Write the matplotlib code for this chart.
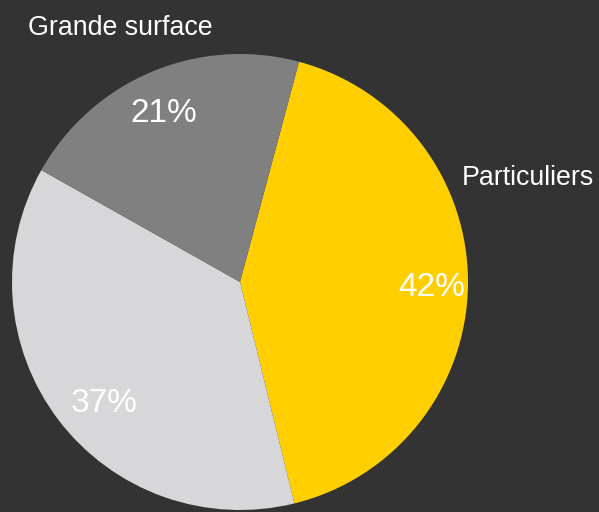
import matplotlib
matplotlib.use("Agg")
import matplotlib.pyplot as plt
import numpy as np

plt.rcParams['font.family'] = ['Liberation Sans', 'DejaVu Sans']

# Share of sales by channel
categories = ["Particuliers", "", "Grande surface"]
shares = [42, 37, 21]
colors = ["#FFCF00", "#D7D7D9", "#808080"]

W, H = 599, 512
fig = plt.figure(figsize=(W / 100, H / 100), dpi=100, facecolor="#333333")
ax = fig.add_axes([0, 0, 1, 1])
ax.set_facecolor("#333333")

cx, cy, R = 240, H - 282, 228
wedges, _ = ax.pie(shares, colors=colors, startangle=75, counterclock=False,
                   center=(cx, cy), radius=R, frame=True,
                   wedgeprops=dict(linewidth=0))

# percentage labels inside each wedge (radial distance, angular nudge in degrees)
pct_dist = [0.84, 0.79, 0.825]
pct_nudge = [0.0, 3.8, 1.2]
for w, v, d, da in zip(wedges, shares, pct_dist, pct_nudge):
    ang = np.deg2rad((w.theta1 + w.theta2) / 2 + da)
    ax.text(cx + d * R * np.cos(ang), cy + d * R * np.sin(ang), f"{v}%",
            color="white", fontsize=24, ha="center", va="center_baseline")

# category labels outside the pie (left edge, baseline)
label_pos = {"Particuliers": (462, H - 185), "Grande surface": (28, H - 35)}
for name in categories:
    if name in label_pos:
        x, y = label_pos[name]
        ax.text(x, y, name, color="white", fontsize=19.3, ha="left", va="baseline")

ax.set_xlim(0, W)
ax.set_ylim(0, H)
ax.set_aspect("equal")
ax.axis("off")

fig.savefig("out.png", dpi=100, facecolor=fig.get_facecolor())
